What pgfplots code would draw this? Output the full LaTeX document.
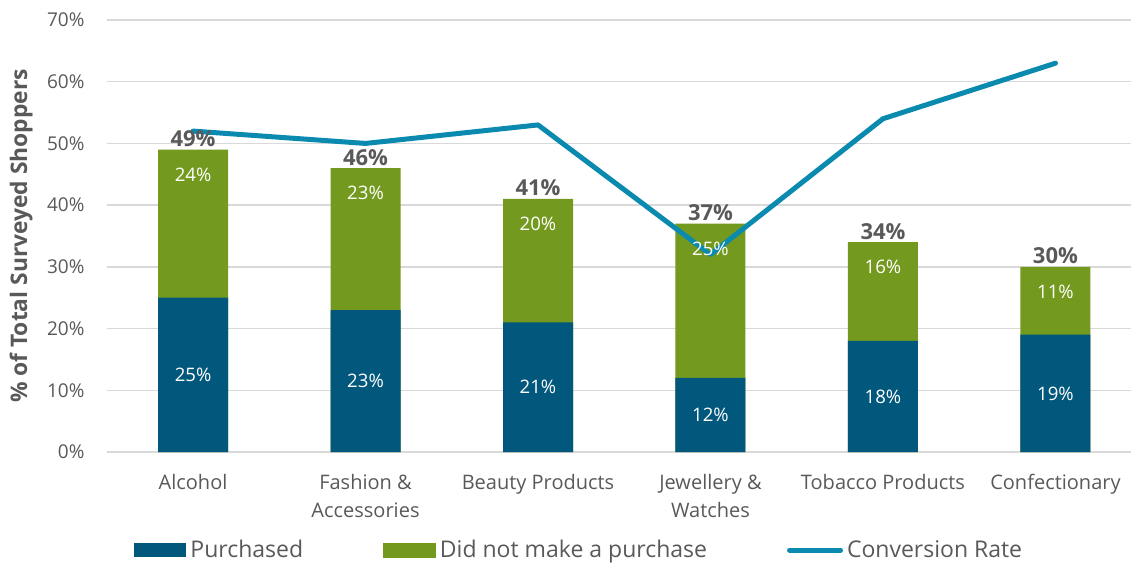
\documentclass[border=0pt]{standalone}
\usepackage{pgfplots}
\pgfplotsset{compat=1.18}
\usepackage{pgfplotstable}
\usepackage{fontspec}
\setmainfont{Open Sans}
\definecolor{barblue}{HTML}{02587C}
\definecolor{bargreen}{HTML}{73991E}
\definecolor{linecol}{HTML}{0A8AAE}
\definecolor{txt}{HTML}{595959}
\definecolor{gridc}{HTML}{D9D9D9}
\pgfplotsset{/pgf/number format/assume math mode=true}

\pgfplotstableread{
x purchased notpurch total conv
0 25 24 49 52
1 23 23 46 50
2 21 20 41 53
3 12 25 37 32
4 18 16 34 54
5 19 11 30 63
}\datatable

\begin{document}
\begin{tikzpicture}
\useasboundingbox (0,0) rectangle (565.5pt,281.5pt);
\begin{axis}[
  at={(53.4pt,55.5pt)}, anchor=south west,
  scale only axis, width=512.1pt, height=216pt,
  xmin=-0.5, xmax=5.438, ymin=0, ymax=70,
  clip=false,
  axis line style={draw=none},
  tick style={draw=none},
  major tick length=0pt,
  ymajorgrids, grid style={gridc, line width=0.75pt},
  ytick={0,10,...,70},
  yticklabel={\pgfmathprintnumber{\tick}\%},
  yticklabel style={font=\fontsize{9.5}{12}\selectfont, text=txt, inner sep=0pt, xshift=-11pt},
  xtick={0,...,5},
  xticklabels={Alcohol,{Fashion \&\\Accessories},Beauty Products,{Jewellery \&\\Watches},Tobacco Products,Confectionary},
  xticklabel style={font=\fontsize{10}{14}\selectfont, text=txt, align=center, inner sep=0pt, anchor=north, yshift=-11pt},
  ylabel={\textbf{\% of Total Surveyed Shoppers}},
  ylabel style={font=\fontsize{11.4}{13}\selectfont, text=txt, at={(axis description cs:-0.0837,0.5)}, anchor=center},
  legend columns=3,
  legend style={at={(axis description cs:0.0266,-0.227)}, anchor=west, draw=none, fill=none,
    inner xsep=0pt, inner ysep=0pt, font=\fontsize{11.5}{14}\selectfont, text=txt,
    /tikz/every even column/.append style={column sep=38pt},
    /tikz/column 4/.append style={column sep=32pt}},
]
% green (total) bars drawn first, blue on top
\addplot[ybar, bar width=35pt, bar shift=0pt, fill=bargreen, draw=none, forget plot]
  table[x=x, y=total]{\datatable};
\addplot[ybar, bar width=35pt, bar shift=0pt, fill=barblue, draw=none,
  legend image code/.code={\fill[barblue] (0pt,-3.5pt) rectangle (26pt,3.5pt);}]
  table[x=x, y=purchased]{\datatable};
\addlegendentry{Purchased}
\addlegendimage{legend image code/.code={\fill[bargreen] (0pt,-3.5pt) rectangle (26pt,3.5pt);}}
\addlegendentry{Did not make a purchase}
\addplot[linecol, line width=2.5pt, line cap=round, line join=round, mark=none,
  legend image code/.code={\draw[linecol, line width=2.5pt, line cap=round] (0pt,0pt) -- (25.5pt,0pt);}]
  table[x=x, y=conv]{\datatable};
\addlegendentry{Conversion Rate}
% labels
\addplot[draw=none, mark=none, forget plot, point meta=explicit,
  nodes near coords={\pgfmathprintnumber[fixed,precision=0]{\pgfplotspointmeta}\%},
  every node near coord/.append style={anchor=center, text=white, font=\fontsize{9.3}{12}\selectfont}]
  table[x=x, y expr=\thisrow{purchased}/2, meta=purchased]{\datatable};
\addplot[draw=none, mark=none, forget plot, point meta=explicit,
  nodes near coords={\pgfmathprintnumber[fixed,precision=0]{\pgfplotspointmeta}\%},
  every node near coord/.append style={anchor=center, yshift=-12.5pt, text=white, font=\fontsize{9.3}{12}\selectfont}]
  table[x=x, y=total, meta=notpurch]{\datatable};
\addplot[draw=none, mark=none, forget plot, point meta=explicit,
  nodes near coords={\pgfmathprintnumber[fixed,precision=0]{\pgfplotspointmeta}\%},
  every node near coord/.append style={anchor=base, yshift=1.5pt, inner sep=0pt, text=txt, font=\bfseries\fontsize{11}{13}\selectfont}]
  table[x=x, y=total, meta=total]{\datatable};
\end{axis}
\end{tikzpicture}
\end{document}
